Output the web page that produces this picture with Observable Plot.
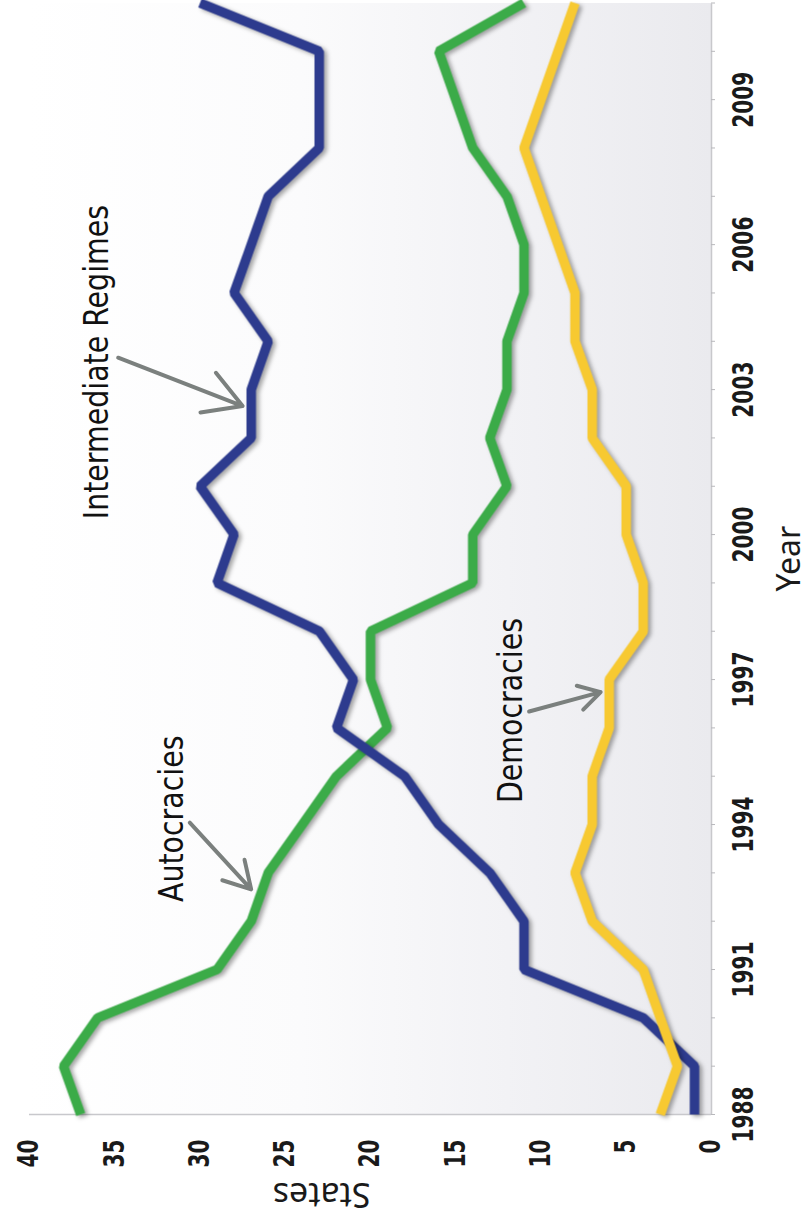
<!DOCTYPE html>
<html>
<head>
<meta charset="utf-8">
<script src="https://cdn.jsdelivr.net/npm/d3@7"></script>
<script src="https://cdn.jsdelivr.net/npm/@observablehq/plot@0.6"></script>
<style>
html, body { margin: 0; padding: 0; background: #fff; width: 809px; height: 1222px; overflow: hidden; }
#chart { position: absolute; left: 0; top: 0; width: 1222px; height: 809px;
  transform-origin: 0 0; transform: translate(0, 1222px) rotate(-90deg); }
</style>
</head>
<body>
<div id="chart"></div>
<script>
// ---- data ----
const years = [1988,1989,1990,1991,1992,1993,1994,1995,1996,1997,1998,1999,2000,2001,2002,2003,2004,2005,2006,2007,2008,2009,2010,2011];
const autocracies  = [37,38,36,29,27,26,24,22,19,20,20,14,14,12,13,12,12,11,11,12,14,15,16,11];
const intermediate = [1,1,4,11,11,13,16,18,22,21,23,29,28,30,27,27,26,28,27,26,23,23,23,30];
const democracies  = [3,2,3,4,7,8,7,7,6,6,4,4,5,5,7,7,8,8,9,10,11,10,9,8];

const yearTickLabels = [1988,1991,1994,1997,2000,2003,2006,2009];
const stateTicks = [0,5,10,15,20,25,30,35,40];

// annotations (in data units)
const annNames = ["Intermediate Regimes","Autocracies","Democracies"];
const annYears = [2003.57, 1994.12, 1996.36];
const annValues = [35.4, 31.0, 11.1];
const arrowFromYears = [2003.66, 1994.04, 1996.34];
const arrowFromValues = [34.8, 30.6, 10.7];
const arrowToYears = [2002.66, 1992.66, 1996.74];
const arrowToValues = [27.5, 27.0, 6.5];

// ---- build tables ----
const toRows = vals => years.map((y, i) => ({year: y, value: vals[i]}));
const greenRows = toRows(autocracies);
const blueRows = toRows(intermediate);
const yellowRows = toRows(democracies);
const annRows = annNames.map((n, i) => ({name: n, year: annYears[i], value: annValues[i]}));
const arrowRows = annNames.map((n, i) => ({x1: arrowFromYears[i], y1: arrowFromValues[i], x2: arrowToYears[i], y2: arrowToValues[i]}));

const narrow = "'DejaVu Sans Condensed', 'DejaVu Sans', sans-serif";
const humanist = "'Noto Sans', 'Open Sans', sans-serif";

const svg = Plot.plot({
  width: 1222,
  height: 809,
  marginLeft: 107,
  marginRight: 3.5,
  marginTop: 29,
  marginBottom: 98,
  style: {background: "transparent", fontFamily: narrow, color: "#1a1a1a", overflow: "visible"},
  x: {domain: [1988, 2011], label: null},
  y: {domain: [0, 40], label: null},
  marks: [
    Plot.frame({fill: "url(#bggrad)"}),
    Plot.ruleY([0], {stroke: "#c8c8cc", strokeWidth: 1.5}),
    Plot.ruleX([1988], {stroke: "#c8c8cc", strokeWidth: 1.5}),
    Plot.axisX(years, {tickSize: 4, stroke: "#b8b8bc", tickFormat: () => "", label: null}),
    Plot.axisX(yearTickLabels, {tickSize: 0, tickPadding: 22, tickFormat: d => String(d), fontSize: 28, fontWeight: "bold", fontFamily: narrow, fill: "#1a1a1a", label: null}),
    Plot.axisY(stateTicks, {tickSize: 0, tickPadding: 25, tickFormat: d => String(d), fontSize: 28, fontWeight: "bold", fontFamily: narrow, fill: "#1a1a1a", label: null}),
    Plot.line(greenRows, {x: "year", y: "value", stroke: "#3bab48", strokeWidth: 9.5, strokeLinejoin: "miter", strokeLinecap: "butt"}),
    Plot.line(blueRows, {x: "year", y: "value", stroke: "#2d3b8e", strokeWidth: 9.5, strokeLinejoin: "miter", strokeLinecap: "butt"}),
    Plot.line(yellowRows, {x: "year", y: "value", stroke: "#f7c931", strokeWidth: 9.5, strokeLinejoin: "miter", strokeLinecap: "butt"}),
    Plot.arrow(arrowRows, {x1: "x1", y1: "y1", x2: "x2", y2: "y2", stroke: "#7b807e", strokeWidth: 4, headLength: 16, headAngle: 60}),
    Plot.text(annRows, {x: "year", y: "value", text: "name", lineAnchor: "bottom", textAnchor: "middle", fontSize: 34, fontFamily: narrow, fill: "#111"}),
    Plot.text(["States"], {text: d => d, frameAnchor: "left", rotate: -90, lineAnchor: "top", dx: -93, fontSize: 34, fontFamily: humanist, fill: "#1a1a1a"}),
    Plot.text(["Year"], {text: d => d, frameAnchor: "bottom", lineAnchor: "top", dy: 66, fontSize: 32, fontFamily: humanist, fill: "#1a1a1a"})
  ]
});

// background gradient + line shadows
const defs = document.createElementNS("http://www.w3.org/2000/svg", "defs");
defs.innerHTML = '<linearGradient id="bggrad" x1="0" y1="0" x2="0" y2="1">' +
  '<stop offset="0" stop-color="#ffffff"/>' +
  '<stop offset="0.4" stop-color="#fbfbfc"/>' +
  '<stop offset="0.7" stop-color="#f2f2f5"/>' +
  '<stop offset="1" stop-color="#eaeaee"/>' +
  '</linearGradient>';
svg.insertBefore(defs, svg.firstChild);
svg.querySelectorAll('g[aria-label="line"]').forEach(g => {
  g.style.filter = "drop-shadow(-2px 3px 2px rgba(0,0,0,0.35))";
});

// horizontally condense text glyphs (reference uses a condensed face)
function condenseTexts(texts, s) {
  texts.forEach(t => {
    const ax = parseFloat(t.getAttribute("x")) || 0;
    const tr = t.getAttribute("transform") || "";
    t.setAttribute("transform", `${tr} translate(${ax},0) scale(${s},1) translate(${-ax},0)`);
  });
}
condenseTexts(svg.querySelectorAll('g[aria-label="x-axis tick label"] text'), 0.8);
condenseTexts(svg.querySelectorAll('g[aria-label="y-axis tick label"] text'), 0.8);
const textGroups = svg.querySelectorAll('g[aria-label="text"]');
if (textGroups[0]) condenseTexts(textGroups[0].querySelectorAll("text"), 0.93);

document.getElementById("chart").appendChild(svg);
</script>
</body>
</html>
